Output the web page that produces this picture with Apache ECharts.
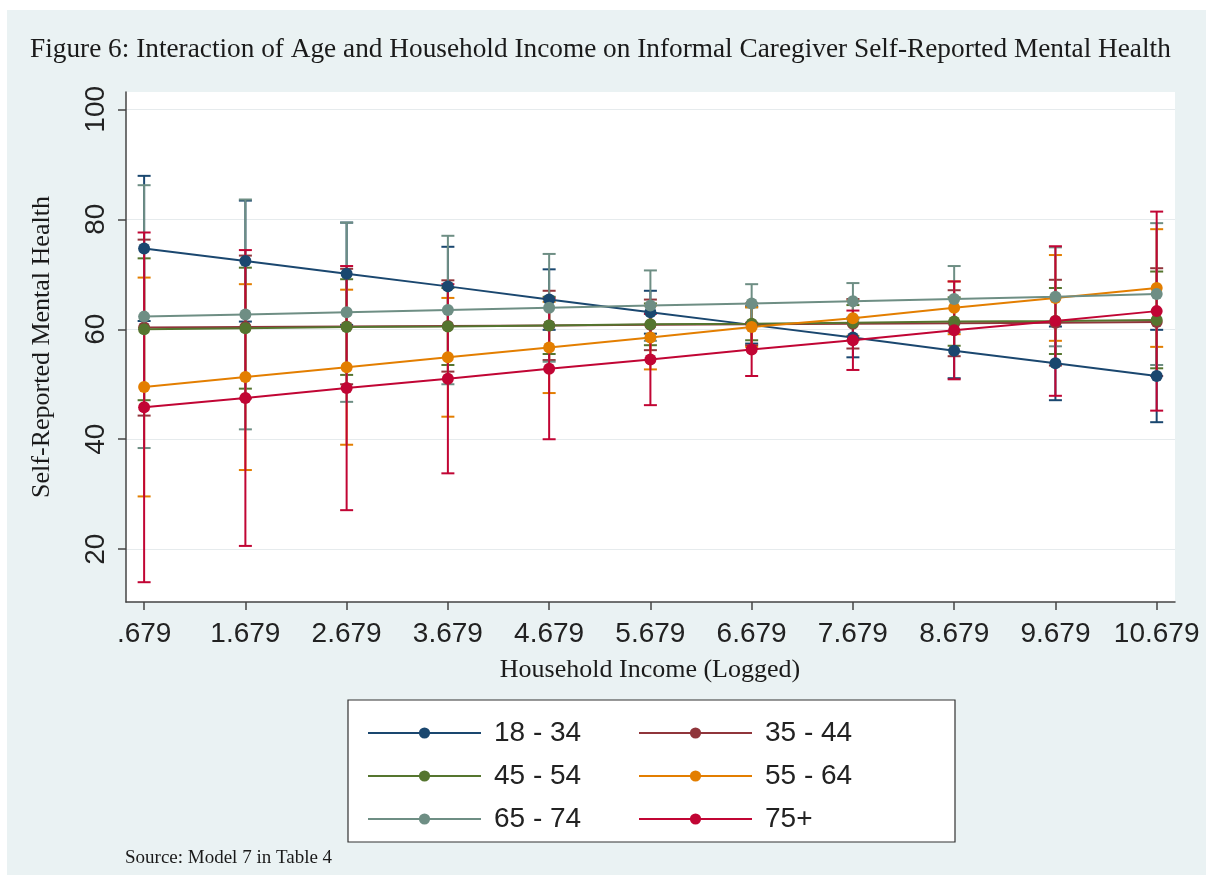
<!DOCTYPE html>
<html>
<head>
<meta charset="utf-8">
<script src="https://cdn.jsdelivr.net/npm/echarts@6/dist/echarts.min.js"></script>
<style>
html,body{margin:0;padding:0;background:#ffffff;}
#chart{width:1206px;height:875px;}
</style>
</head>
<body>
<div id="chart"></div>
<script>
// ---- data ----
const xValues = [0.679, 1.679, 2.679, 3.679, 4.679, 5.679, 6.679, 7.679, 8.679, 9.679, 10.679];
const xTickLabels = ['.679', '1.679', '2.679', '3.679', '4.679', '5.679', '6.679', '7.679', '8.679', '9.679', '10.679'];
const yTicks = [20, 40, 60, 80, 100];
const groups = ['18 - 34', '35 - 44', '45 - 54', '55 - 64', '65 - 74', '75+'];

const est18_34 = [74.7, 72.4, 70.1, 67.8, 65.4, 63.1, 60.8, 58.5, 56.1, 53.8, 51.5];
const lo18_34  = [61.5, 61.4, 60.8, 60.6, 59.9, 59.2, 57.4, 54.9, 51.1, 47.1, 43.1];
const hi18_34  = [87.9, 83.4, 79.4, 75.0, 70.9, 67.0, 64.2, 62.1, 61.1, 60.5, 59.9];

const est35_44 = [60.3, 60.4, 60.5, 60.6, 60.7, 60.8, 60.9, 61.0, 61.1, 61.2, 61.3];
const lo35_44  = [44.3, 47.4, 50.0, 52.3, 54.4, 56.2, 57.1, 56.5, 55.1, 53.4, 51.5];
const hi35_44  = [76.3, 73.4, 71.0, 68.9, 67.0, 65.4, 64.7, 65.5, 67.1, 69.0, 71.1];

const est45_54 = [60.0, 60.2, 60.4, 60.5, 60.7, 60.9, 61.0, 61.2, 61.4, 61.5, 61.7];
const lo45_54  = [47.1, 49.2, 51.7, 53.5, 55.5, 57.1, 58.0, 58.0, 57.0, 55.5, 52.9];
const hi45_54  = [72.9, 71.2, 69.1, 67.5, 65.9, 64.7, 64.0, 64.4, 65.8, 67.5, 70.5];

const est55_64 = [49.5, 51.3, 53.1, 54.9, 56.7, 58.5, 60.4, 62.0, 63.9, 65.7, 67.5];
const lo55_64  = [29.6, 34.4, 39.0, 44.1, 48.4, 52.7, 56.8, 58.8, 59.1, 57.9, 56.8];
const hi55_64  = [69.4, 68.2, 67.2, 65.7, 65.0, 64.3, 64.0, 65.2, 68.7, 73.5, 78.2];

const est65_74 = [62.3, 62.7, 63.1, 63.5, 63.9, 64.3, 64.7, 65.1, 65.5, 65.9, 66.4];
const lo65_74  = [38.4, 41.8, 46.8, 50.0, 54.1, 57.9, 61.2, 61.8, 59.5, 56.9, 53.5];
const hi65_74  = [86.2, 83.6, 79.4, 77.0, 73.7, 70.7, 68.2, 68.4, 71.5, 74.9, 79.3];

const est75p = [45.8, 47.5, 49.3, 51.0, 52.8, 54.5, 56.3, 58.0, 59.8, 61.5, 63.3];
const lo75p  = [14.0, 20.6, 27.1, 33.8, 40.0, 46.2, 51.5, 52.6, 50.9, 47.9, 45.2];
const hi75p  = [77.6, 74.4, 71.5, 68.2, 65.6, 62.8, 61.1, 63.4, 68.7, 75.1, 81.4];

const colors = ['#1a476f', '#90353b', '#55752f', '#e37e00', '#6e8e84', '#c10534'];
// ---------------------------------------

const estimates = [est18_34, est35_44, est45_54, est55_64, est65_74, est75p];
const lowers = [lo18_34, lo35_44, lo45_54, lo55_64, lo65_74, lo75p];
const uppers = [hi18_34, hi35_44, hi45_54, hi55_64, hi65_74, hi75p];

function makeCiRender(color) {
  return function (params, api) {
    const x = api.value(0), lo = api.value(1), hi = api.value(2);
    const pLo = api.coord([x, lo]);
    const pHi = api.coord([x, hi]);
    const hw = 6.5;
    const style = { stroke: color, lineWidth: 2, fill: null };
    return {
      type: 'group',
      children: [
        { type: 'line', shape: { x1: pLo[0], y1: pLo[1], x2: pHi[0], y2: pHi[1] }, style: style },
        { type: 'line', shape: { x1: pLo[0] - hw, y1: pLo[1], x2: pLo[0] + hw, y2: pLo[1] }, style: style },
        { type: 'line', shape: { x1: pHi[0] - hw, y1: pHi[1], x2: pHi[0] + hw, y2: pHi[1] }, style: style }
      ]
    };
  };
}

const series = [];
groups.forEach((g, k) => {
  series.push({
    name: g + ' CI',
    type: 'custom',
    renderItem: makeCiRender(colors[k]),
    data: xValues.map((x, i) => [x, lowers[k][i], uppers[k][i]]),
    encode: { x: 0, y: [1, 2] },
    z: 2,
    silent: true
  });
});
groups.forEach((g, k) => {
  series.push({
    name: g,
    type: 'line',
    data: xValues.map((x, i) => [x, estimates[k][i]]),
    symbol: 'circle',
    symbolSize: 12,
    showSymbol: true,
    itemStyle: { color: colors[k] },
    lineStyle: { color: colors[k], width: 2 },
    z: 3
  });
});

const chart = echarts.init(document.getElementById('chart'), null, { renderer: 'canvas' });
const legendText = { fontFamily: 'Liberation Sans, Arial, sans-serif', fontSize: 28, color: '#222', lineHeight: 30, padding: [0, 0, 0, 8] };

chart.setOption({
  animation: false,
  backgroundColor: '#ffffff',
  graphic: [
    { type: 'rect', z: -10, shape: { x: 7, y: 10, width: 1199, height: 865 }, style: { fill: '#eaf2f3' } },
    { type: 'rect', z: -5, shape: { x: 348, y: 700, width: 607, height: 142 }, style: { fill: '#ffffff', stroke: '#333333', lineWidth: 1.2 } },
    { type: 'text', x: 30, y: 50, style: { text: 'Figure 6: Interaction of Age and Household Income on Informal Caregiver Self-Reported Mental Health', font: '27.3px "Liberation Serif", "Times New Roman", serif', fill: '#1a1a1a', textVerticalAlign: 'middle' } },
    { type: 'text', x: 650, y: 670, style: { text: 'Household Income (Logged)', font: '26px "Liberation Serif", "Times New Roman", serif', fill: '#1a1a1a', textAlign: 'center', textVerticalAlign: 'middle' } },
    { type: 'text', x: 42, y: 347, rotation: Math.PI / 2, style: { text: 'Self-Reported Mental Health', font: '26px "Liberation Serif", "Times New Roman", serif', fill: '#1a1a1a', textAlign: 'center', textVerticalAlign: 'middle' } },
    { type: 'text', x: 125, y: 858, style: { text: 'Source: Model 7 in Table 4', font: '19px "Liberation Serif", "Times New Roman", serif', fill: '#1a1a1a', textVerticalAlign: 'middle' } }
  ],
  grid: { left: 126, top: 92, width: 1049, height: 510, show: true, backgroundColor: '#ffffff', borderWidth: 0 },
  xAxis: {
    type: 'value', min: 0.5, max: 10.86,
    axisLine: { show: true, onZero: false, lineStyle: { color: '#444', width: 1.5 } },
    axisTick: { show: true, length: 8, customValues: xValues, lineStyle: { color: '#444', width: 1.5 } },
    axisLabel: { customValues: xValues, formatter: v => xTickLabels[xValues.findIndex(t => Math.abs(t - v) < 1e-6)] ?? '', fontFamily: 'Liberation Sans, Arial, sans-serif', fontSize: 28, color: '#222', margin: 18 },
    splitLine: { show: false }
  },
  yAxis: {
    type: 'value', min: 10.4, max: 103.15,
    axisLine: { show: true, lineStyle: { color: '#444', width: 1.5 } },
    axisTick: { show: true, length: 8, customValues: yTicks, lineStyle: { color: '#444', width: 1.5 } },
    axisLabel: { customValues: yTicks, rotate: 90, fontFamily: 'Liberation Sans, Arial, sans-serif', fontSize: 28, color: '#222', margin: 16 },
    splitLine: { show: true, lineStyle: { color: '#e6ebed', width: 1.2 } }
  },
  legend: [
    { orient: 'vertical', left: 362, top: 713, itemWidth: 113, itemHeight: 14, itemGap: 13, data: [groups[0], groups[2], groups[4]], textStyle: legendText, selectedMode: false },
    { orient: 'vertical', left: 633, top: 713, itemWidth: 113, itemHeight: 14, itemGap: 13, data: [groups[1], groups[3], groups[5]], textStyle: legendText, selectedMode: false }
  ],
  series: series
});
</script>
</body>
</html>
